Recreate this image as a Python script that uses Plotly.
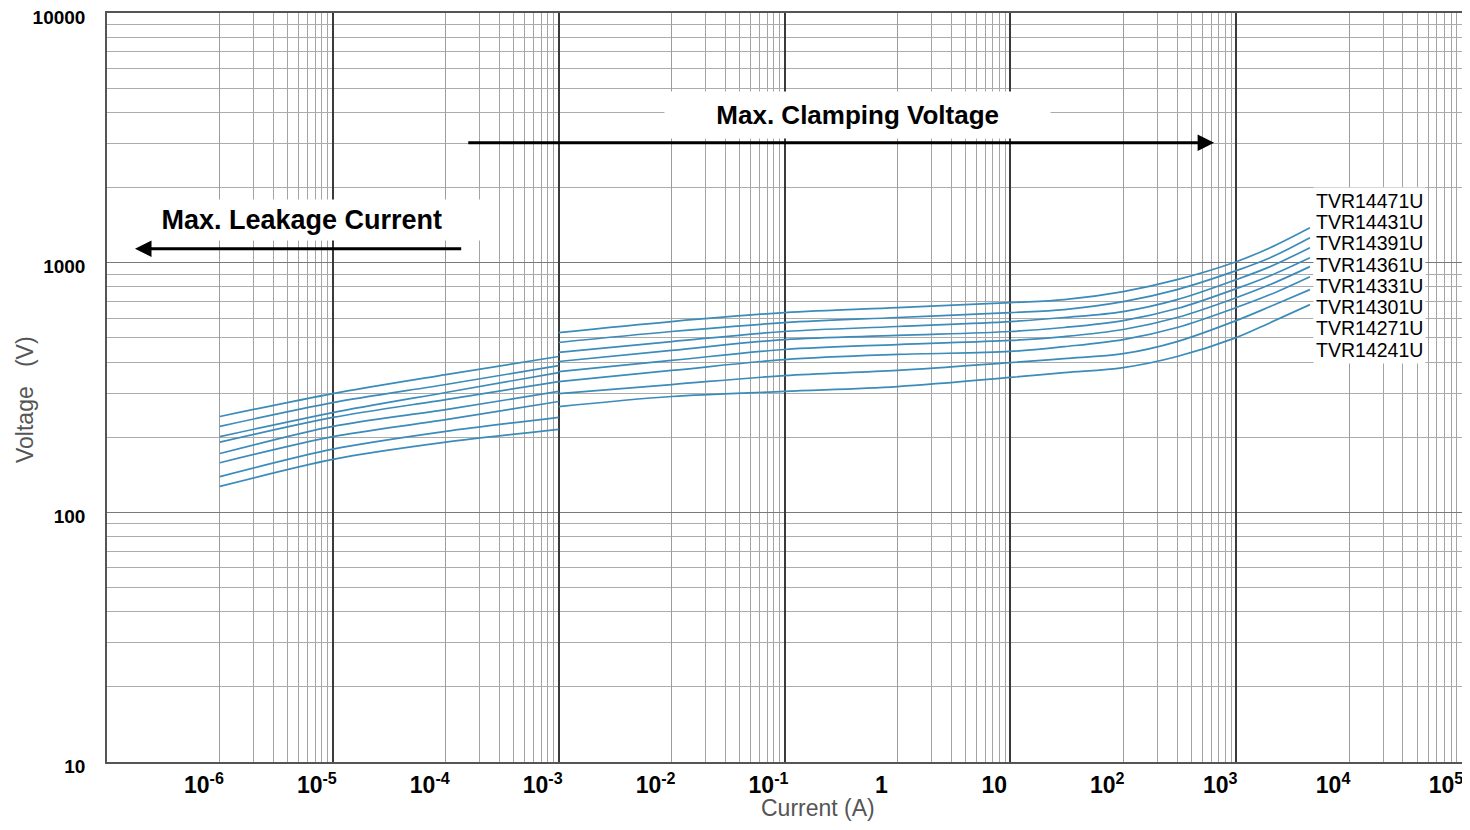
import plotly.graph_objects as go

# ---------------- data ----------------
series_names = ["TVR14471U", "TVR14431U", "TVR14391U", "TVR14361U",
                "TVR14331U", "TVR14301U", "TVR14271U", "TVR14241U"]

# leakage region (A)
leakage_current = [1e-6, 1e-5, 1e-4, 1e-3]
leakage_voltage = [
    [242, 299, 356, 421],   # TVR14471U
    [221, 275, 325, 387],   # TVR14431U
    [201, 251, 302, 363],   # TVR14391U
    [191, 240, 283, 334],   # TVR14361U
    [172, 221, 258, 305],   # TVR14331U
    [158, 201, 235, 278],   # TVR14301U
    [139, 179, 211, 240],   # TVR14271U
    [127, 163, 191, 215],   # TVR14241U
]

# clamping region (A)
clamping_current = [1e-3, 1e-2, 1e-1, 1, 10, 30, 100, 300, 1000, 2000, 4500]
clamping_voltage = [
    [525, 581, 631, 661, 692, 711, 766, 855, 1009, 1148, 1380],   # TVR14471U
    [479, 530, 575, 603, 631, 649, 698, 780, 929, 1047, 1259],    # TVR14431U
    [437, 483, 530, 555, 581, 603, 637, 711, 855, 964, 1148],     # TVR14391U
    [402, 445, 492, 511, 530, 550, 586, 655, 787, 887, 1047],     # TVR14361U
    [366, 406, 449, 470, 488, 506, 540, 603, 724, 817, 964],      # TVR14331U
    [334, 370, 409, 429, 441, 461, 492, 550, 661, 745, 879],      # TVR14301U
    [299, 325, 353, 370, 398, 413, 432, 483, 586, 667, 780],      # TVR14271U
    [265, 291, 305, 319, 347, 363, 380, 421, 501, 575, 679],      # TVR14241U
]

x_tick_values = [10.0 ** k for k in range(-6, 6)]
x_tick_text = ["10<sup>-6</sup>", "10<sup>-5</sup>", "10<sup>-4</sup>", "10<sup>-3</sup>",
               "10<sup>-2</sup>", "10<sup>-1</sup>", "1", "10", "10<sup>2</sup>",
               "10<sup>3</sup>", "10<sup>4</sup>", "10<sup>5</sup>"]
x_dark_decades = [-5, -3, -1, 1, 3]
x_minor_decades = [-6, -4, -2, 0, 2, 4]

y_tick_values = [10, 100, 1000, 10000]
y_tick_text = ["10", "100", "1000", "10000"]
y_minor_decades = [1, 2, 3]

x_title = "Current (A)"
y_title = "Voltage   (V)"
clamp_text = "Max. Clamping Voltage"
leak_text = "Max. Leakage Current"

# ---------------- figure ----------------
FONT = "Liberation Sans, Arial, sans-serif"
LINE_COLOR = "#3b8cba"

fig = go.Figure()

for name, lv, cv in zip(series_names, leakage_voltage, clamping_voltage):
    fig.add_trace(go.Scatter(x=leakage_current, y=lv, mode="lines", name=name,
                             legendgroup=name, showlegend=False,
                             line=dict(color=LINE_COLOR, width=1.7, shape="spline", smoothing=0.8),
                             hoverinfo="x+y+name"))
    fig.add_trace(go.Scatter(x=clamping_current, y=cv, mode="lines", name=name,
                             legendgroup=name, showlegend=False,
                             line=dict(color=LINE_COLOR, width=1.7, shape="spline", smoothing=1.0),
                             hoverinfo="x+y+name"))

# dummy trace so the overlay axis (dark decade grid) is drawn
fig.add_trace(go.Scatter(x=[], y=[], xaxis="x2", showlegend=False, hoverinfo="skip"))

x_minor_vals = [m * 10.0 ** k for k in x_minor_decades for m in range(2, 10)]
y_minor_vals = [m * 10.0 ** k for k in y_minor_decades for m in range(2, 10)]

# the page body adds an 8 px margin around the figure
fig.update_layout(
    width=1454, height=814,
    margin=dict(l=99, r=0, t=5, b=60),
    paper_bgcolor="white", plot_bgcolor="white",
    font=dict(family=FONT, color="black"),
    xaxis=dict(
        type="log", range=[-7, 5], automargin=False,
        tickmode="array", tickvals=x_tick_values, ticktext=x_tick_text,
        tickfont=dict(size=23, family=FONT, color="black", weight="bold"),
        ticklabelstandoff=2, ticklabelshift=-16, ticklabeloverflow="allow",
        showgrid=True, gridcolor="#9c9c9c", gridwidth=1,
        minor=dict(tickmode="array", tickvals=x_minor_vals, showgrid=True,
                   gridcolor="#a4a4a4", gridwidth=1),
        showline=True, mirror=True, linecolor="#555555", linewidth=1.5,
        ticks="", zeroline=False,
    ),
    xaxis2=dict(
        type="log", range=[-7, 5], overlaying="x", side="bottom", automargin=False,
        tickmode="array", tickvals=[10.0 ** k for k in x_dark_decades],
        showticklabels=False, showgrid=True, gridcolor="#3a3a3a", gridwidth=1.6,
        ticks="", showline=False, zeroline=False,
    ),
    yaxis=dict(
        type="log", range=[1, 4], automargin=False,
        tickmode="array", tickvals=y_tick_values, ticktext=y_tick_text,
        tickfont=dict(size=19, family=FONT, color="black", weight="bold"),
        ticklabelstandoff=16, ticklabelshift=4, ticklabeloverflow="allow",
        showgrid=True, gridcolor="#7a7a7a", gridwidth=1.2,
        minor=dict(tickmode="array", tickvals=y_minor_vals, showgrid=True,
                   gridcolor="#acacac", gridwidth=1),
        showline=True, mirror=True, linecolor="#555555", linewidth=1.5,
        ticks="", zeroline=False,
    ),
)

annotations = [
    # axis titles
    dict(xref="paper", yref="paper", x=(818 - 107) / 1355, y=(762 - 808) / 749,
         text=x_title, showarrow=False,
         font=dict(size=23, color="#555555", family=FONT), xanchor="center", yanchor="middle"),
    dict(xref="paper", yref="paper", x=(25 - 107) / 1355, y=(762 - 400) / 749,
         text=y_title, showarrow=False,
         textangle=-90, font=dict(size=23, color="#555555", family=FONT),
         xanchor="center", yanchor="middle"),
    # region labels
    dict(xref="x", yref="y", x=-0.354, y=3.592,
         text="&nbsp;" * 6 + clamp_text + "&nbsp;" * 6, showarrow=False,
         font=dict(size=26, color="black", family=FONT, weight="bold"),
         bgcolor="white", borderpad=8, xanchor="center", yanchor="middle"),
    dict(xref="x", yref="y", x=-5.274, y=3.172,
         text="&nbsp;" * 5 + leak_text + "&nbsp;" * 5, showarrow=False,
         font=dict(size=27, color="black", family=FONT, weight="bold"),
         bgcolor="white", borderpad=5, xanchor="center", yanchor="middle"),
    # arrows
    dict(xref="x", yref="y", axref="x", ayref="y", x=2.805, y=3.48, ax=-3.814, ay=3.48,
         text="", showarrow=True, arrowhead=2, arrowsize=1.1, arrowwidth=3,
         arrowcolor="black"),
    dict(xref="x", yref="y", axref="x", ayref="y", x=-6.752, y=3.056, ax=-3.85, ay=3.056,
         text="", showarrow=True, arrowhead=2, arrowsize=1.1, arrowwidth=3,
         arrowcolor="black"),
]

# series labels: stacked list at the right (pixel row spacing of the reference)
label_top_px, label_step_px = 201.0, 21.3
for i, name in enumerate(series_names):
    py = label_top_px + i * label_step_px
    annotations.append(dict(
        xref="x", yref="y", x=3.68, y=3 - (py - 263) / 250, text=name,
        showarrow=False, align="left", xanchor="left", yanchor="middle",
        font=dict(size=19.5, color="black", family=FONT),
        bgcolor="white", borderpad=2))

fig.update_layout(annotations=annotations)

fig.write_html("out.html")
